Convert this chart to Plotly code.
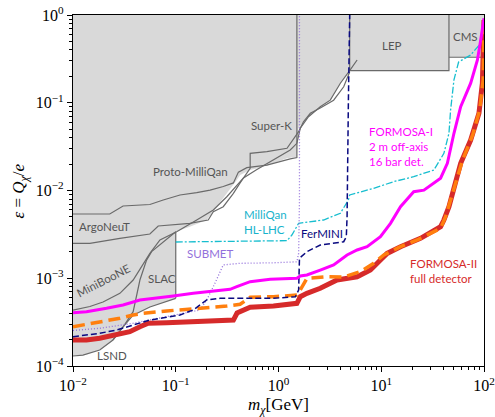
import numpy as np
import plotly.graph_objects as go

# ---------------- data (m_chi [GeV], epsilon) ----------------
# excluded region (union) outline
gray_m = [0.01, 100, 100, 45.6, 45.6, 4.93, 4.0, 3.19, 2.55, 1.96, 1.56, 1.51, 1.21, 0.964, 0.714,
          0.53, 0.423, 0.393, 0.314, 0.25, 0.2, 0.137, 0.1, 0.1, 0.056, 0.0385, 0.0307, 0.0245,
          0.0182, 0.0125, 0.01]
gray_eps = [1, 1, 0.33, 0.33, 0.232, 0.232, 0.167, 0.107, 0.09, 0.0693, 0.0515, 0.0243, 0.0233,
            0.0213, 0.0187, 0.0171, 0.015, 0.0132, 0.0093, 0.0065, 0.0046, 0.00386, 0.00339,
            0.00059, 0.00047, 0.00038, 0.00028, 0.000198, 0.000152, 0.000133, 0.00013]

# individual experiment outlines
argo_top_m = [0.01, 0.0228, 0.0307, 0.056, 0.0755, 0.11, 0.160, 0.216, 0.290, 0.364, 0.407, 0.492,
              0.771, 1.0, 1.30, 1.51, 1.51]
argo_top_eps = [5.40e-3, 5.40e-3, 6.66e-3, 6.92e-3, 7.79e-3, 8.89e-3, 9.44e-3, 1.01e-2, 1.11e-2,
                1.22e-2, 1.62e-2, 1.82e-2, 1.95e-2, 2.13e-2, 2.29e-2, 2.37e-2, 1.0]

argo_bot_m = [0.01, 0.0146, 0.0286, 0.056, 0.0675, 0.0877, 0.137, 0.207, 0.232, 0.290, 0.364, 0.423,
              0.53, 0.53, 0.771, 1.21, 1.35, 1.57, 1.75, 2.04, 2.55, 3.44, 4.31, 4.93]
argo_bot_eps = [2.50e-3, 2.50e-3, 2.85e-3, 3.19e-3, 3.94e-3, 4.04e-3, 4.23e-3, 4.61e-3, 5.73e-3,
                6.54e-3, 9.29e-3, 1.22e-2, 1.79e-2, 2.65e-2, 2.77e-2, 3.03e-2, 3.60e-2, 4.68e-2,
                6.08e-2, 7.58e-2, 8.71e-2, 0.107, 0.152, 0.224]

mini_m = [0.01, 0.0146, 0.0196, 0.0286, 0.0385, 0.0465, 0.056, 0.0702, 0.102, 0.160, 0.232, 0.314,
          0.393, 0.456, 0.605, 0.964, 1.30, 1.51, 1.63, 1.96, 2.55, 3.19, 4.0, 4.93, 5.82]
mini_eps = [4.34e-4, 4.76e-4, 5.36e-4, 6.73e-4, 9.55e-4, 1.35e-3, 1.92e-3, 2.73e-3, 3.39e-3,
            4.61e-3, 6.00e-3, 8.49e-3, 1.16e-2, 1.39e-2, 1.71e-2, 2.34e-2, 2.90e-2, 3.45e-2,
            5.15e-2, 6.93e-2, 9.0e-2, 0.107, 0.167, 0.232, 0.307]

slac_m = [0.0245, 0.0307, 0.0385, 0.0448, 0.052, 0.0582, 0.1, 0.1]
slac_eps = [1.98e-4, 2.78e-4, 4.16e-4, 9.55e-4, 1.61e-3, 2.01e-3, 3.39e-3, 5.9e-4]

lsnd_m = [0.01, 0.0125, 0.0182, 0.0245, 0.0307, 0.0385, 0.056, 0.1]
lsnd_eps = [1.30e-4, 1.33e-4, 1.52e-4, 1.98e-4, 2.80e-4, 3.80e-4, 4.70e-4, 5.90e-4]

lep_m = [4.93, 4.93, 45.6, 45.6]
lep_eps = [1.0, 0.232, 0.232, 1.0]
cms_m = [45.6, 100]
cms_eps = [0.33, 0.33]

# projected sensitivities
formosa2_m = [0.01, 0.01352, 0.0182, 0.0265, 0.0357, 0.0448, 0.054, 0.0815, 0.2, 0.364, 0.395, 0.53,
              0.894, 1.51, 1.63, 1.89, 2.55, 3.71, 5.82, 7.85, 9.82, 11.4, 15.4, 24.1, 37.8, 40.7,
              45.6, 51, 59.3, 74.2, 89.3, 96.4, 99.3, 100]
formosa2_eps = [1.98e-4, 1.98e-4, 2.07e-4, 2.25e-4, 2.46e-4, 2.80e-4, 3.07e-4, 3.11e-4, 3.28e-4,
                3.34e-4, 4.02e-4, 4.67e-4, 4.83e-4, 5.18e-4, 6.16e-4, 6.74e-4, 7.68e-4, 9.55e-4,
                1.04e-3, 1.24e-3, 1.61e-3, 1.92e-3, 2.29e-3, 2.85e-3, 3.87e-3, 4.61e-3, 6.54e-3,
                1.10e-2, 2.04e-2, 3.76e-2, 7.58e-2, 0.167, 0.399, 0.877]

formosa2b_m = [0.01, 0.0125, 0.0182, 0.0286, 0.0385, 0.0482, 0.0815, 0.128, 0.2, 0.314, 0.423, 0.53,
               0.894, 1.51, 1.63, 1.89, 2.97, 4.31, 6.27, 8.45, 10.6, 15.4, 22.4, 37.8, 42.3, 47.3,
               53, 61.9, 77.6, 90.8, 98.2, 100]
formosa2b_eps = [2.80e-4, 2.93e-4, 3.20e-4, 3.50e-4, 3.81e-4, 3.99e-4, 4.24e-4, 4.43e-4, 4.55e-4,
                 4.83e-4, 5.05e-4, 6.07e-4, 6.16e-4, 6.44e-4, 7.35e-4, 9.99e-4, 1.04e-3, 1.03e-3,
                 1.19e-3, 1.48e-3, 1.84e-3, 2.29e-3, 2.73e-3, 3.71e-3, 5.03e-3, 7.80e-3, 1.16e-2,
                 2.23e-2, 4.29e-2, 8.27e-2, 0.182, 0.9]

formosa1_m = [0.01, 0.01352, 0.0212, 0.0307, 0.0448, 0.0652, 0.0946, 0.148, 0.232, 0.338, 0.393,
              0.53, 0.83, 1.51, 1.63, 1.89, 2.55, 3.44, 4.65, 5.82, 7.28, 9.82, 12.3, 15.4, 20.7,
              26.0, 37.8, 44.0, 51, 59.3, 74.2, 86.3, 92.9, 100]
formosa1_eps = [4.05e-4, 4.16e-4, 4.55e-4, 4.96e-4, 5.65e-4, 5.91e-4, 6.28e-4, 6.74e-4, 7.21e-4,
                7.48e-4, 8.01e-4, 9.14e-4, 9.73e-4, 9.98e-4, 1.06e-3, 1.09e-3, 1.24e-3, 1.42e-3,
                1.84e-3, 2.10e-3, 2.29e-3, 2.98e-3, 4.23e-3, 6.54e-3, 9.68e-3, 1.01e-2, 1.38e-2,
                2.04e-2, 4.49e-2, 9.02e-2, 0.167, 0.307, 0.519, 0.917]

fermini_m = [0.01, 0.01352, 0.0182, 0.0265, 0.0385, 0.056, 0.0815, 0.11, 0.148, 0.2, 0.27, 0.53,
             0.894, 1.46, 1.57, 1.60, 1.89, 2.55, 3.44, 4.31, 4.57, 4.65, 4.79, 4.93]
fermini_eps = [2.16e-4, 2.25e-4, 2.36e-4, 2.57e-4, 2.93e-4, 3.34e-4, 3.59e-4, 3.81e-4, 4.35e-4,
               5.65e-4, 5.91e-4, 5.85e-4, 5.91e-4, 6.16e-4, 7.35e-4, 1.69e-3, 2.01e-3, 2.39e-3,
               2.54e-3, 2.61e-3, 2.97e-3, 5.03e-3, 0.107, 1.0]

submet_m = [0.01, 0.0182, 0.0385, 0.0815, 0.128, 0.172, 0.2, 0.232, 0.29, 0.423, 0.894, 1.51, 1.57,
            1.60, 1.60]
submet_eps = [2.54e-4, 2.69e-4, 3.07e-4, 3.65e-4, 3.99e-4, 4.35e-4, 5.65e-4, 8.01e-4, 1.42e-3,
              1.48e-3, 1.50e-3, 1.54e-3, 1.92e-3, 7.80e-3, 1.0]

milliqan_m = [0.1, 1.21, 1.35, 1.57, 2.75, 4.0, 4.79, 4.93, 8.45, 13.2, 20.7, 32.5, 40.7, 45.6, 47.3,
              51, 56.6, 74.2, 92.9]
milliqan_eps = [2.59e-3, 2.68e-3, 3.11e-3, 4.23e-3, 4.61e-3, 5.50e-3, 7.80e-3, 8.89e-3, 1.06e-2,
                1.26e-2, 1.44e-2, 1.71e-2, 2.65e-2, 4.49e-2, 8.26e-2, 0.182, 0.291, 0.35, 0.476]

x_tick_vals = [0.01, 0.1, 1, 10, 100]
x_tick_text = ["10<sup>−2</sup>", "10<sup>−1</sup>", "10<sup>0</sup>", "10<sup>1</sup>", "10<sup>2</sup>"]
y_tick_vals = [1e-4, 1e-3, 1e-2, 1e-1, 1]
y_tick_text = ["10<sup>−4</sup>", "10<sup>−3</sup>", "10<sup>−2</sup>", "10<sup>−1</sup>", "10<sup>0</sup>"]

# ---------------- figure ----------------
GREY_LINE = "#6a6a6a"
fig = go.Figure()

fig.add_trace(go.Scatter(x=gray_m, y=gray_eps, fill="toself", fillcolor="#d9d9d9",
                         line=dict(width=0), mode="lines", hoverinfo="skip"))

for xm, ye in [(argo_top_m, argo_top_eps), (argo_bot_m, argo_bot_eps), (mini_m, mini_eps),
               (slac_m, slac_eps), (lsnd_m, lsnd_eps), (lep_m, lep_eps), (cms_m, cms_eps)]:
    fig.add_trace(go.Scatter(x=xm, y=ye, mode="lines", line=dict(color=GREY_LINE, width=1.2)))

fig.add_trace(go.Scatter(x=milliqan_m, y=milliqan_eps, mode="lines",
                         line=dict(color="#17becf", width=1.3, dash="7px,2px,2px,2px")))
fig.add_trace(go.Scatter(x=submet_m, y=submet_eps, mode="lines",
                         line=dict(color="#9370db", width=1.3, dash="1px,2px")))
fig.add_trace(go.Scatter(x=formosa2_m, y=formosa2_eps, mode="lines",
                         line=dict(color="#d62a2a", width=5)))
fig.add_trace(go.Scatter(x=formosa2b_m, y=formosa2b_eps, mode="lines",
                         line=dict(color="#ff7f0e", width=3.5, dash="12px,6px")))
fig.add_trace(go.Scatter(x=fermini_m, y=fermini_eps, mode="lines",
                         line=dict(color="#0a0a80", width=1.5, dash="6px,3px")))
fig.add_trace(go.Scatter(x=formosa1_m, y=formosa1_eps, mode="lines",
                         line=dict(color="#ff00ff", width=3)))

# ---------------- labels ----------------
LABEL_FONT = "Lato"
labels = [
    ("LEP", 12.8, 0.455, "#555555", "center", 0),
    ("CMS", 66.2, 0.566, "#555555", "center", 0),
    ("Super-K", 0.863, 0.0557, "#555555", "center", 0),
    ("Proto-MilliQan", 0.138, 0.0164, "#555555", "center", 0),
    ("ArgoNeuT", 0.0204, 3.94e-3, "#555555", "center", 0),
    ("MiniBooNE", 0.0196, 9.55e-4, "#555555", "center", -27),
    ("SLAC", 0.0728, 1.0e-3, "#555555", "center", 0),
    ("LSND", 0.0237, 1.33e-4, "#555555", "center", 0),
    ("SUBMET", 0.216, 1.92e-3, "#9370db", "center", 0),
    ("MilliQan<br>HL-LHC", 0.741, 4.38e-3, "#17b3cc", "center", 0),
    ("FerMINI", 2.65, 3.25e-3, "#0a0a80", "center", 0),
    ("FORMOSA-I<br>2 m off-axis<br>16 bar det.", 7.28, 0.0316, "#ff00ff", "left", 0),
    ("FORMOSA-II<br>full detector", 18.4, 1.21e-3, "#d62a2a", "left", 0),
]
for txt, lx, ly, col, anc, ang in labels:
    fig.add_annotation(x=np.log10(lx), y=np.log10(ly), text=txt, showarrow=False,
                       xanchor=anc, yanchor="middle", align="left", textangle=ang,
                       font=dict(family=LABEL_FONT, size=11.5, color=col))

# y-axis title as a rotated paper-anchored annotation
fig.add_annotation(xref="paper", yref="paper", x=-0.129, y=0.5, showarrow=False,
                   text="<i>ε</i> = <i>Q</i><sub><i>χ</i></sub>/<i>e</i>", textangle=-90,
                   xanchor="center", yanchor="middle",
                   font=dict(family="Liberation Serif", size=17, color="black"))

minor_vals = [k * 10.0 ** e for e in range(-4, 2) for k in range(2, 10)]

fig.update_layout(
    width=495, height=417,
    margin=dict(l=73, r=11, t=15, b=51, autoexpand=False),
    paper_bgcolor="white", plot_bgcolor="white",
    showlegend=False,
    xaxis=dict(type="log", range=[-2, 2], showgrid=False, zeroline=False, automargin=False,
               showline=True, linecolor="black", linewidth=1.2, mirror=True,
               ticks="outside", ticklen=5, tickwidth=1, tickcolor="black",
               tickvals=x_tick_vals, ticktext=x_tick_text,
               tickfont=dict(family="Liberation Serif", size=16, color="black"),
               minor=dict(ticks="outside", ticklen=3, tickwidth=0.8, tickcolor="black",
                          tickvals=minor_vals, showgrid=False),
               title=dict(text="<i>m</i><sub><i>χ</i></sub>[GeV]", standoff=12,
                          font=dict(family="Liberation Serif", size=17, color="black"))),
    yaxis=dict(type="log", range=[-4, 0], showgrid=False, zeroline=False, automargin=False,
               showline=True, linecolor="black", linewidth=1.2, mirror=True,
               ticks="outside", ticklen=5, tickwidth=1, tickcolor="black",
               tickvals=y_tick_vals, ticktext=y_tick_text,
               tickfont=dict(family="Liberation Serif", size=16, color="black"),
               minor=dict(ticks="outside", ticklen=3, tickwidth=0.8, tickcolor="black",
                          tickvals=minor_vals, showgrid=False)),
)

fig.write_html("out.html")
